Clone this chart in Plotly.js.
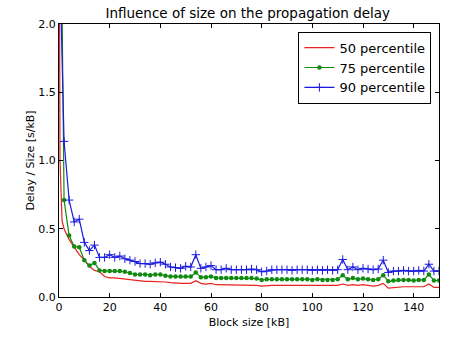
<!DOCTYPE html>
<html>
<head>
<meta charset="utf-8">
<script src="https://cdn.plot.ly/plotly-3.0.1.min.js"></script>
<style>html,body{margin:0;padding:0;background:#fff;}#chart{width:464px;height:353px;}</style>
</head>
<body>
<div id="chart"></div>
<script>
// Block sizes (kB) for the 75 regular bins
const blockSizes = [2,4,6,8,10,12,14,16,18,20,22,24,26,28,30,32,34,36,38,40,42,44,46,48,50,52,54,56,58,60,62,64,66,68,70,72,74,76,78,80,82,84,86,88,90,92,94,96,98,100,102,104,106,108,110,112,114,116,118,120,122,124,126,128,130,132,134,136,138,140,142,144,146,148,150];

// leading (smallest-size) points, which shoot off the top of the chart
const leadX = [0.5];
const leadX50 = [0.1, 0.4, 1.2];
const lead50 = [2.8, 1.0, 0.56];
const lead75 = [3.35];
const lead90 = [2.31];

const p50 = [0.5,0.42,0.36,0.31,0.27,0.225,0.195,0.185,0.15,0.14,0.14,0.135,0.13,0.125,0.12,0.12,0.115,0.115,0.115,0.115,0.11,0.105,0.1,0.1,0.1,0.1,0.12,0.1,0.095,0.1,0.09,0.09,0.09,0.09,0.09,0.09,0.09,0.09,0.085,0.08,0.085,0.085,0.085,0.085,0.085,0.085,0.085,0.085,0.085,0.08,0.085,0.08,0.08,0.08,0.085,0.095,0.085,0.09,0.085,0.09,0.085,0.08,0.085,0.1,0.065,0.07,0.075,0.075,0.075,0.075,0.075,0.075,0.095,0.07,0.07];

const p75 = [0.71,0.45,0.37,0.365,0.27,0.23,0.25,0.195,0.19,0.19,0.19,0.19,0.185,0.175,0.165,0.165,0.165,0.16,0.165,0.165,0.155,0.15,0.15,0.15,0.15,0.15,0.18,0.145,0.145,0.15,0.14,0.14,0.14,0.14,0.14,0.14,0.14,0.14,0.135,0.125,0.13,0.13,0.13,0.13,0.13,0.13,0.13,0.13,0.13,0.125,0.13,0.125,0.125,0.125,0.13,0.16,0.13,0.14,0.13,0.135,0.13,0.125,0.13,0.16,0.115,0.12,0.125,0.125,0.125,0.12,0.125,0.125,0.165,0.12,0.12];

const p90 = [1.14,0.71,0.55,0.57,0.40,0.34,0.38,0.29,0.29,0.31,0.29,0.30,0.28,0.27,0.26,0.245,0.245,0.24,0.25,0.255,0.24,0.22,0.215,0.21,0.225,0.22,0.31,0.21,0.22,0.23,0.2,0.2,0.21,0.2,0.2,0.2,0.2,0.205,0.2,0.185,0.19,0.2,0.2,0.2,0.2,0.195,0.2,0.2,0.2,0.195,0.2,0.195,0.2,0.195,0.2,0.275,0.2,0.22,0.2,0.21,0.205,0.2,0.205,0.27,0.18,0.19,0.19,0.195,0.19,0.19,0.195,0.19,0.24,0.19,0.19];

const seriesNames = ["50 percentile", "75 percentile", "90 percentile"];
const tickVals = [0,20,40,60,80,100,120,140];
const yTickVals = [0,0.5,1.0,1.5,2.0];

const font = "DejaVu Sans, sans-serif";

const traces = [
  {x: leadX50.concat(blockSizes), y: lead50.concat(p50), name: seriesNames[0], mode: "lines",
   line: {color: "#e8221e", width: 1.2}},
  {x: leadX.concat(blockSizes), y: lead75.concat(p75), name: seriesNames[1], mode: "lines+markers",
   line: {color: "#108a10", width: 1.2},
   marker: {symbol: "circle", size: 4.5, color: "#108a10"}},
  {x: leadX.concat(blockSizes), y: lead90.concat(p90), name: seriesNames[2], mode: "lines+markers",
   line: {color: "#1a1ae0", width: 1.2},
   marker: {symbol: "cross-thin", size: 6, line: {color: "#1a1ae0", width: 1}}}
];

const axisCommon = {
  showline: true, linecolor: "#000", linewidth: 1, mirror: "ticks",
  ticks: "inside", ticklen: 4, tickcolor: "#000", tickwidth: 1,
  showgrid: false, zeroline: false,
  tickfont: {family: font, size: 11, color: "#000"}
};

const layout = {
  width: 464, height: 353,
  margin: {l: 59, r: 25, t: 24, b: 56},
  paper_bgcolor: "#fff", plot_bgcolor: "#fff",
  font: {family: font, color: "#000"},
  title: {text: "Influence of size on the propagation delay", font: {family: font, size: 13.5, color: "#000"},
          x: 0.534, xanchor: "center", y: 0.962, yanchor: "middle"},
  xaxis: Object.assign({}, axisCommon, {
    range: [0, 150], tickvals: tickVals, ticktext: tickVals.map(String),
    title: {text: "Block size [kB]", font: {family: font, size: 11, color: "#000"}, standoff: 5}
  }),
  yaxis: Object.assign({}, axisCommon, {
    range: [0, 2.0], tickvals: yTickVals, ticktext: yTickVals.map(v => v.toFixed(1)),
    title: {text: "Delay / Size [s/kB]", font: {family: font, size: 11, color: "#000"}, standoff: 1}
  }),
  legend: {
    x: 0.98, xanchor: "right", y: 0.972, yanchor: "top",
    bgcolor: "#fff", bordercolor: "#000", borderwidth: 1,
    font: {family: font, size: 13, color: "#000"},
    itemwidth: 30,
    tracegroupgap: 0
  },
  showlegend: true
};

Plotly.newPlot("chart", traces, layout, {displayModeBar: false, staticPlot: true});
</script>
</body>
</html>
